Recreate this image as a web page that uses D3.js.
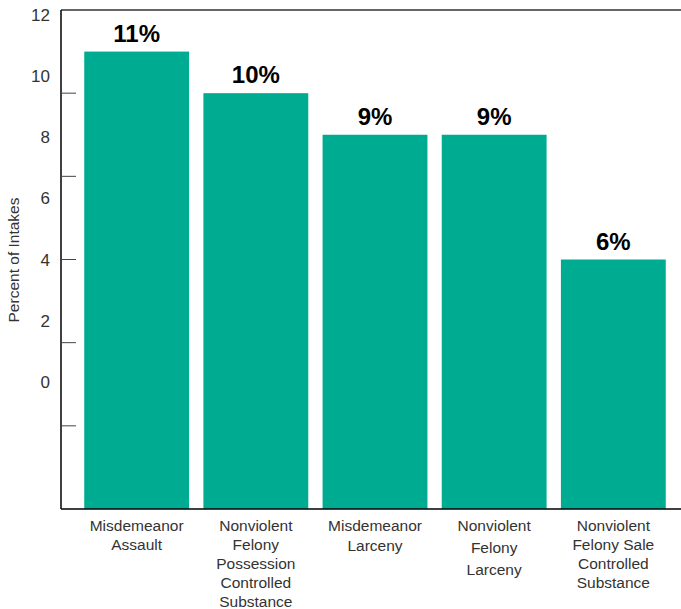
<!DOCTYPE html>
<html>
<head>
<meta charset="utf-8">
<script src="https://cdn.jsdelivr.net/npm/d3@7"></script>
<style>
  body { margin: 0; background: #fff; }
  text { font-family: "Liberation Sans", Arial, sans-serif; }
</style>
</head>
<body>
<svg></svg>
<script>
// chart data
const categories = [
  ["Misdemeanor", "Assault"],
  ["Nonviolent", "Felony", "Possession", "Controlled", "Substance"],
  ["Misdemeanor", "Larceny"],
  ["Nonviolent", "Felony", "Larceny"],
  ["Nonviolent", "Felony Sale", "Controlled", "Substance"]
];
const values = [11, 10, 9, 9, 6];
const valueLabels = ["11%", "10%", "9%", "9%", "6%"];
const tickLabels = [12, 10, 8, 6, 4, 2, 0];
const tickMarks = [10, 8, 6, 4, 2];

let width = 681,
  height = 609;

let svg = d3.select("svg").attr("width", width).attr("height", height);

const plotLeft = 61, plotTop = 10, plotBottom = 509;

let x = d3
  .scaleBand()
  .domain(d3.range(values.length))
  .range([plotLeft, 689])
  .paddingInner(0.12)
  .paddingOuter(0.195);

let y = d3.scaleLinear().domain([0, 12]).range([plotBottom, plotTop]);

// the labels on the left don't line up with the ticks in the original
let yLabel = d3.scaleLinear().domain([0, 12]).range([382, 15]);

// bars
svg
  .append("g")
  .selectAll("rect")
  .data(values)
  .enter()
  .append("rect")
  .attr("x", (d, i) => x(i))
  .attr("y", (d) => y(d))
  .attr("width", x.bandwidth())
  .attr("height", (d) => plotBottom - y(d))
  .attr("fill", "#00ac91");

// value labels
svg
  .append("g")
  .selectAll("text")
  .data(values)
  .enter()
  .append("text")
  .attr("x", (d, i) => x(i) + x.bandwidth() / 2)
  .attr("y", (d) => y(d) - 10)
  .attr("text-anchor", "middle")
  .style("font-size", "24px")
  .style("font-weight", "bold")
  .attr("fill", "#000")
  .text((d, i) => valueLabels[i]);

// frame lines
svg.append("line")
  .attr("x1", plotLeft).attr("x2", width)
  .attr("y1", plotTop).attr("y2", plotTop)
  .attr("stroke", "#333").attr("stroke-width", 1.5);
svg.append("line")
  .attr("x1", plotLeft).attr("x2", width)
  .attr("y1", plotBottom).attr("y2", plotBottom)
  .attr("stroke", "#000").attr("stroke-width", 1.5);
svg.append("line")
  .attr("x1", plotLeft).attr("x2", plotLeft)
  .attr("y1", plotTop).attr("y2", plotBottom)
  .attr("stroke", "#000").attr("stroke-width", 1.5);

// tick marks
svg
  .append("g")
  .selectAll("line")
  .data(tickMarks)
  .enter()
  .append("line")
  .attr("x1", plotLeft)
  .attr("x2", plotLeft + 15)
  .attr("y1", (d) => y(d))
  .attr("y2", (d) => y(d))
  .attr("stroke", "#444")
  .attr("stroke-width", 1);

// tick labels
svg
  .append("g")
  .selectAll("text")
  .data(tickLabels)
  .enter()
  .append("text")
  .attr("x", 50)
  .attr("y", (d) => yLabel(d))
  .attr("dy", "0.35em")
  .attr("text-anchor", "end")
  .style("font-size", "17px")
  .attr("fill", "#333")
  .text((d) => d);

// y title
svg.append("text")
  .attr("transform", "translate(19,260) rotate(-90)")
  .attr("text-anchor", "middle")
  .style("font-size", "15.5px")
  .attr("fill", "#333")
  .text("Percent of Intakes");

// category labels
const lineGap = [19, 19, 20, 22, 19];
svg
  .append("g")
  .selectAll("text")
  .data(categories)
  .enter()
  .append("text")
  .attr("x", (d, i) => x(i) + x.bandwidth() / 2)
  .attr("y", 531)
  .attr("text-anchor", "middle")
  .style("font-size", "15.5px")
  .attr("fill", "#333")
  .each(function (d, i) {
    d3.select(this)
      .selectAll("tspan")
      .data(d)
      .enter()
      .append("tspan")
      .attr("x", x(i) + x.bandwidth() / 2)
      .attr("dy", (t, j) => (j === 0 ? 0 : lineGap[i]))
      .text((t) => t);
  });
</script>
</body>
</html>
